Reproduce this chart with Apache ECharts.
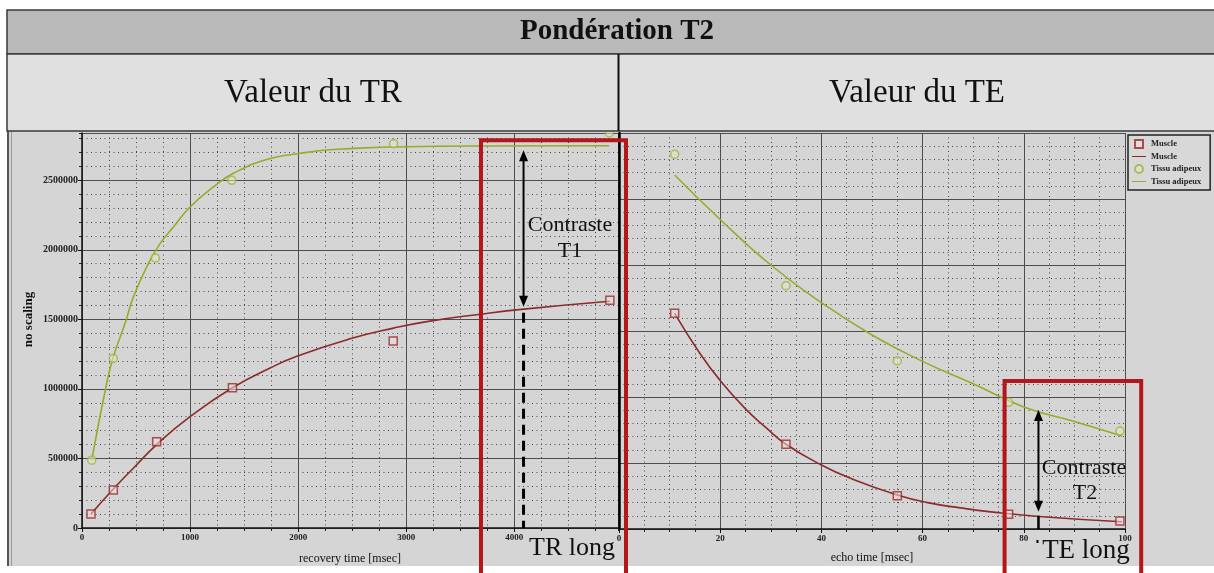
<!DOCTYPE html>
<html><head><meta charset="utf-8">
<script src="https://cdn.jsdelivr.net/npm/echarts@6/dist/echarts.min.js"></script>
<style>html,body{margin:0;padding:0;background:#fff}#c{width:1214px;height:573px}</style>
</head><body><div id="c"></div>
<script>
// ---------- DATA ----------
// Left chart: recovery time (TR, msec) vs signal
const trMuscleX = [83, 290, 691, 1392, 2880, 4885];
const trMuscleY = [100000, 273000, 620000, 1008000, 1345000, 1638000];
const trFatX = [90, 290, 679, 1386, 2883, 4880];
const trFatY = [488000, 1219000, 1942000, 2500000, 2763000, 2840000];
// fitted curves
const trMuscleCurveX = [83, 290, 475, 691, 1000, 1392, 1741, 1988, 2481, 2883, 3191, 3685, 4090, 4885];
const trMuscleCurveY = [100000, 280000, 430000, 600000, 800000, 1008000, 1150000, 1235000, 1360000, 1437000, 1484000, 1537000, 1574000, 1630000];
const trFatCurveX = [90, 228, 290, 398, 475, 599, 722, 846, 1000, 1216, 1401, 1710, 2019, 2235, 2481, 2852, 3620, 4880];
const trFatCurveY = [488000, 1039000, 1231000, 1470000, 1660000, 1877000, 2045000, 2164000, 2308000, 2452000, 2550000, 2650000, 2694000, 2716000, 2728000, 2739000, 2747000, 2748000];

// Right chart: echo time (TE, msec) vs signal
const teX = [11, 33, 55, 77, 99];
const teMuscleY = [1634000, 642000, 252000, 111000, 61000];
const teFatY = [2839000, 1843000, 1273000, 960000, 742000];
const teMuscleCurveX = [11, 16, 20, 25, 29, 33, 40, 46, 55, 61, 67.5, 73.5, 83, 99.4];
const teMuscleCurveY = [1634000, 1330000, 1125000, 910000, 770000, 642000, 485000, 380000, 258000, 200000, 160000, 130000, 95000, 55000];
const teFatCurveX = [11, 20, 30, 40, 50, 60, 70, 80, 90, 99.4];
const teFatCurveY = [2682000, 2345000, 2000000, 1715000, 1470000, 1270000, 1100000, 925000, 815000, 705000];

// Texts
const mainTitle = 'Pondération T2';
const panelTitles = ['Valeur du TR', 'Valeur du TE'];
const legendNames = ['Muscle', 'Muscle ', 'Tissu adipeux', 'Tissu adipeux '];
const xNames = ['recovery time [msec]', 'echo time [msec]'];
const yName = 'no scaling';

// Annotation anchors (data space)
const trBox = {x0: 3692, x1: 5034, yTop: 2787000};
const trArrow = {x: 4086, yTop: 2716000, yBot: 1590000};
const teBox = {x0: 76.2, x1: 103.2, yTop: 1121000};
const teArrow = {x: 82.9, yTop: 901000, yBot: 131000};

// ---------- CHART ----------
const zip = (a, b) => a.map((v, i) => [v, b[i]]);
const SERIF = "'Liberation Serif','DejaVu Serif',serif";
const RED = '#9a2a2c', RED_L = '#8a2b2d';
const GRN = '#a2b23a', GRN_L = '#98aa2c';
const majorLine = {show: true, lineStyle: {color: '#4d4d4d', width: 1}};
const minorLine = {show: true, lineStyle: {color: '#444', width: 1, type: [1, 3.5]}};
const lblStyle = {fontSize: 10, fontWeight: 'bold', fontFamily: SERIF, color: '#222', formatter: v => String(v)};

function majorX(grid, max, interval, name, gap) {
  return {gridIndex: grid, type: 'value', min: 0, max: max, interval: interval, position: 'bottom', z: 3,
    axisLine: {show: true, onZero: false, lineStyle: {color: '#111', width: 1.5}},
    axisTick: {show: true, length: 4, lineStyle: {color: '#111'}},
    axisLabel: Object.assign({margin: 5, showMaxLabel: grid === 1}, lblStyle, {fontSize: 9}),
    splitLine: majorLine,
    name: name, nameLocation: 'middle', nameGap: gap,
    nameTextStyle: {fontFamily: SERIF, fontSize: 12, color: '#111'}};
}
function minorX(grid, max, interval) {
  return {gridIndex: grid, type: 'value', min: 0, max: max, interval: interval, position: 'bottom', z: 1,
    axisLine: {show: false}, axisTick: {show: true, length: 3, lineStyle: {color: '#222'}},
    axisLabel: {show: false}, splitLine: minorLine};
}
function minorY(grid, max, interval) {
  return {gridIndex: grid, type: 'value', min: 0, max: max, interval: interval, position: 'left', z: 1,
    axisLine: {show: false}, axisTick: {show: grid === 0, length: 3, lineStyle: {color: '#222'}},
    axisLabel: {show: false}, splitLine: minorLine};
}

const option = {
  backgroundColor: '#ffffff',
  animation: false,
  grid: [
    {left: 82, top: 133, width: 536, height: 395},
    {left: 619, top: 133, width: 506, height: 396}
  ],
  xAxis: [
    majorX(0, 4960, 1000, xNames[0], 25),
    minorX(0, 4960, 250),
    majorX(1, 100, 20, xNames[1], 23),
    minorX(1, 100, 5)
  ],
  yAxis: [
    {gridIndex: 0, type: 'value', min: 0, max: 2840000, interval: 500000, position: 'left', z: 3,
      axisLine: {show: true, lineStyle: {color: '#111', width: 1.5}},
      axisTick: {show: true, length: 4, lineStyle: {color: '#111'}},
      axisLabel: Object.assign({margin: 4, showMaxLabel: false}, lblStyle),
      splitLine: majorLine,
      name: yName, nameLocation: 'middle', nameGap: 47,
      nameTextStyle: {fontFamily: SERIF, fontSize: 13, fontWeight: 'bold', color: '#111', padding: [0, 0, 0, 22]}},
    minorY(0, 2840000, 100000),
    {gridIndex: 1, type: 'value', min: 0, max: 3000000, interval: 500000, position: 'left', z: 3,
      axisLine: {show: true, lineStyle: {color: '#000', width: 2.5}},
      axisTick: {show: false}, axisLabel: {show: false},
      splitLine: majorLine},
    minorY(1, 3000000, 100000)
  ],
  legend: {
    data: [
      {name: legendNames[0], icon: 'path://M4,0H12V8H4Z'},
      {name: legendNames[1], icon: 'path://M0,3.4H16V4.6H0Z'},
      {name: legendNames[2], icon: 'circle'},
      {name: legendNames[3], icon: 'path://M0,3.4H16V4.6H0Z'}
    ],
    orient: 'vertical', left: 1128, top: 135,
    itemGap: 3, itemWidth: 14, itemHeight: 8, padding: [4, 9, 4, 4],
    borderColor: '#222', borderWidth: 1.5, backgroundColor: '#d8d8d8',
    selectedMode: false, formatter: n => n.trim(),
    textStyle: {fontFamily: SERIF, fontSize: 8.5, fontWeight: 'bold', color: '#222'}
  },
  series: [
    {name: legendNames[1], type: 'line', xAxisIndex: 0, yAxisIndex: 0, data: zip(trMuscleCurveX, trMuscleCurveY),
      smooth: 0.5, symbol: 'none', lineStyle: {color: RED_L, width: 1.6}, itemStyle: {color: RED_L}, z: 4},
    {name: legendNames[3], type: 'line', xAxisIndex: 0, yAxisIndex: 0, data: zip(trFatCurveX, trFatCurveY),
      smooth: 0.5, symbol: 'none', lineStyle: {color: GRN_L, width: 1.6}, itemStyle: {color: GRN_L}, z: 4},
    {name: legendNames[0], type: 'scatter', xAxisIndex: 0, yAxisIndex: 0, data: zip(trMuscleX, trMuscleY),
      symbol: 'rect', symbolSize: 8, itemStyle: {color: 'rgba(235,220,220,0.7)', borderColor: RED, borderWidth: 1.5}, z: 5},
    {name: legendNames[2], type: 'scatter', xAxisIndex: 0, yAxisIndex: 0, data: zip(trFatX, trFatY),
      symbol: 'circle', symbolSize: 8, itemStyle: {color: 'rgba(225,228,205,0.7)', borderColor: GRN, borderWidth: 1.5}, z: 5},
    {name: legendNames[1], type: 'line', xAxisIndex: 2, yAxisIndex: 2, data: zip(teMuscleCurveX, teMuscleCurveY),
      smooth: 0.5, symbol: 'none', lineStyle: {color: RED_L, width: 1.6}, itemStyle: {color: RED_L}, z: 4},
    {name: legendNames[3], type: 'line', xAxisIndex: 2, yAxisIndex: 2, data: zip(teFatCurveX, teFatCurveY),
      smooth: 0.5, symbol: 'none', lineStyle: {color: GRN_L, width: 1.6}, itemStyle: {color: GRN_L}, z: 4},
    {name: legendNames[0], type: 'scatter', xAxisIndex: 2, yAxisIndex: 2, data: zip(teX, teMuscleY),
      symbol: 'rect', symbolSize: 8, itemStyle: {color: 'rgba(235,220,220,0.7)', borderColor: RED, borderWidth: 1.5}, z: 5},
    {name: legendNames[2], type: 'scatter', xAxisIndex: 2, yAxisIndex: 2, data: zip(teX, teFatY),
      symbol: 'circle', symbolSize: 8, itemStyle: {color: 'rgba(225,228,205,0.7)', borderColor: GRN, borderWidth: 1.5}, z: 5}
  ]
};

const chart = echarts.init(document.getElementById('c'), null, {renderer: 'canvas'});
chart.setOption(option);

// ---------- OVERLAYS ----------
const L = (x, y) => chart.convertToPixel({xAxisIndex: 0, yAxisIndex: 0}, [x, y]);
const R = (x, y) => chart.convertToPixel({xAxisIndex: 2, yAxisIndex: 2}, [x, y]);
const TOP = 100;
function txt(text, x, y, size, weight, z) {
  return {type: 'text', z: z || TOP, x: x, y: y,
    style: {text: text, fill: '#111', font: (weight || 'normal') + ' ' + size + 'px ' + SERIF, align: 'center', verticalAlign: 'middle'}};
}
function arrow(x, y1, y2) {
  return [
    {type: 'line', z: TOP, shape: {x1: x, y1: y1 + 8, x2: x, y2: y2 - 8}, style: {stroke: '#000', lineWidth: 2}},
    {type: 'polygon', z: TOP, shape: {points: [[x, y1], [x - 4.5, y1 + 11], [x + 4.5, y1 + 11]]}, style: {fill: '#000'}},
    {type: 'polygon', z: TOP, shape: {points: [[x, y2], [x - 4.5, y2 - 11], [x + 4.5, y2 - 11]]}, style: {fill: '#000'}}
  ];
}
const g = [];
// panel background
g.push({type: 'rect', z: -10, shape: {x: 7, y: 130, width: 1207, height: 436}, style: {fill: '#d5d5d5'}});
g.push({type: 'line', z: TOP, shape: {x1: 8, y1: 130, x2: 8, y2: 566}, style: {stroke: '#555', lineWidth: 2}});
g.push({type: 'line', z: TOP, shape: {x1: 11.5, y1: 130, x2: 11.5, y2: 566}, style: {stroke: '#9a9a9a', lineWidth: 1}});
// headers
g.push({type: 'rect', z: TOP, shape: {x: 7, y: 10, width: 1208, height: 44}, style: {fill: '#b9b9b9', stroke: '#3a3a3a', lineWidth: 1.5}});
g.push({type: 'rect', z: TOP, shape: {x: 7, y: 54, width: 1208, height: 77}, style: {fill: '#e0e0e0', stroke: '#3a3a3a', lineWidth: 1.5}});
g.push({type: 'line', z: TOP, shape: {x1: 618.5, y1: 54, x2: 618.5, y2: 131}, style: {stroke: '#111', lineWidth: 2}});
g.push(txt(mainTitle, 617, 32, 29, 'bold'));
g.push(txt(panelTitles[0], 313, 93, 33));
g.push(txt(panelTitles[1], 917, 93, 33));

// left annotation
const lb0 = L(trBox.x0, trBox.yTop), lb1 = L(trBox.x1, 0);
g.push({type: 'rect', z: TOP, shape: {x: lb0[0], y: lb0[1], width: lb1[0] - lb0[0], height: 600 - lb0[1]},
  style: {fill: 'none', stroke: '#b3161b', lineWidth: 4}});
const la1 = L(trArrow.x, trArrow.yTop), la2 = L(trArrow.x, trArrow.yBot), la0 = L(trArrow.x, 0);
g.push(...arrow(la1[0], la1[1], la2[1]));
g.push({type: 'line', z: TOP, shape: {x1: la1[0], y1: la2[1] + 6, x2: la1[0], y2: la0[1]},
  style: {stroke: '#000', lineWidth: 3, lineDash: [10, 6]}});
g.push(txt('Contraste', 570, 225, 22));
g.push(txt('T1', 570, 251, 22));
g.push(txt('TR long', 572, 548, 26));

// right annotation
const rb0 = R(teBox.x0, teBox.yTop), rb1 = R(teBox.x1, 0);
g.push({type: 'rect', z: TOP, shape: {x: rb0[0], y: rb0[1], width: rb1[0] - rb0[0], height: 600 - rb0[1]},
  style: {fill: 'none', stroke: '#b3161b', lineWidth: 4}});
const ra1 = R(teArrow.x, teArrow.yTop), ra2 = R(teArrow.x, teArrow.yBot), ra0 = R(teArrow.x, 0);
g.push(...arrow(ra1[0], ra1[1], ra2[1]));
g.push({type: 'line', z: TOP, shape: {x1: ra1[0], y1: ra2[1] + 4, x2: ra1[0], y2: ra0[1]},
  style: {stroke: '#000', lineWidth: 2.5}});
g.push({type: 'line', z: TOP, shape: {x1: ra1[0] - 1, y1: ra0[1] + 11, x2: ra1[0] - 1, y2: ra0[1] + 14},
  style: {stroke: '#000', lineWidth: 2}});
g.push(txt('Contraste', 1084, 468, 22));
g.push(txt('T2', 1085, 493, 22));
g.push(txt('TE long', 1086, 551, 27));

chart.setOption({graphic: g});
</script>
</body></html>
